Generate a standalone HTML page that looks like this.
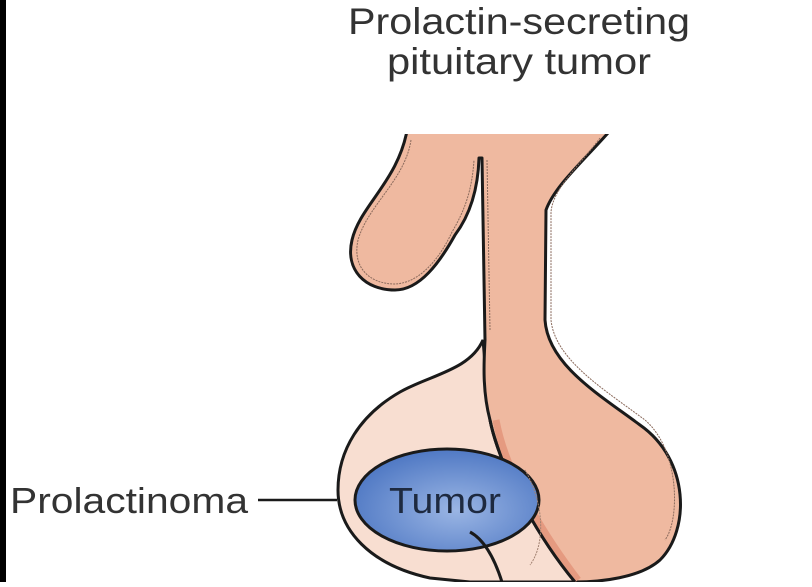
<!DOCTYPE html>
<html><head><style>
html,body{margin:0;padding:0;background:#fff;}
body{width:812px;height:582px;overflow:hidden;position:relative;font-family:"Liberation Sans",sans-serif;}
</style></head><body>
<svg width="812" height="582" viewBox="0 0 812 582" xmlns="http://www.w3.org/2000/svg">
<defs>
<radialGradient id="tg" cx="0.55" cy="0.6" r="0.6">
<stop offset="0" stop-color="#9ab5e4"/><stop offset="1" stop-color="#5079c4"/>
</radialGradient>
<clipPath id="cp"><rect x="0" y="134" width="812" height="448"/></clipPath>
</defs>
<rect x="0" y="0" width="6" height="582" fill="#000"/>
<path d="M483,340 C470,370 430,375 400,392 C360,415 338,450 338,490 C338,530 370,565 430,578 L470,582 L575,582 C540,540 500,470 490,420 Z" fill="#f8ded1" stroke="#1a1a1a" stroke-width="3"/>
<g clip-path="url(#cp)">
<path d="M408,125 L615,125 C585,160 555,185 546,210 L545,320 C548,365 600,395 640,425 C690,460 690,530 660,560 C640,578 600,582 575,582 C545,540 500,470 490,420 C482,390 484,360 485,340 L482,158 L479,158 C478,190 470,215 455,235 C440,262 420,290 395,290 C365,290 345,270 352,240 C360,205 400,180 408,125 Z" fill="#efb9a0" stroke="#1a1a1a" stroke-width="3" stroke-linejoin="round"/>
</g>
<path d="M496,420 C505,470 540,530 578,580" fill="none" stroke="#e59a80" stroke-width="7"/>
<path d="M490,420 C500,470 540,540 575,582" fill="none" stroke="#1a1a1a" stroke-width="3"/>
<path d="M411,140 C405,180 368,205 358,240 C352,268 370,284 395,284 C420,283 440,258 452,232 C465,210 472,190 474,160" fill="none" stroke="#8a6a5c" stroke-width="1" stroke-dasharray="2,1"/>
<path d="M487,160 L490,330" fill="none" stroke="#8a6a5c" stroke-width="1" stroke-dasharray="2,1"/>
<path d="M600,138 C580,165 553,188 551,212 L551,320 C555,360 605,390 645,420 C680,450 680,520 665,540" fill="none" stroke="#8a6a5c" stroke-width="1" stroke-dasharray="2,1"/>
<ellipse cx="447" cy="500" rx="92" ry="51" fill="url(#tg)" stroke="#1a1a1a" stroke-width="3"/>
<path d="M470,532 C485,540 495,560 502,582" fill="none" stroke="#1a1a1a" stroke-width="3"/>
<path d="M525,470 C545,505 545,545 530,565" fill="none" stroke="#a08070" stroke-width="1" stroke-dasharray="2,1"/>
<line x1="258" y1="500" x2="337" y2="500" stroke="#1a1a1a" stroke-width="2.5"/>
<text x="389" y="513" font-size="36" textLength="112" lengthAdjust="spacingAndGlyphs" fill="#1e2a40">Tumor</text>
<text x="10" y="513" font-size="36" textLength="238" lengthAdjust="spacingAndGlyphs" fill="#333">Prolactinoma</text>
<text x="348" y="34" font-size="37" textLength="342" lengthAdjust="spacingAndGlyphs" fill="#333">Prolactin-secreting</text>
<text x="387" y="74" font-size="37" textLength="264" lengthAdjust="spacingAndGlyphs" fill="#333">pituitary tumor</text>
</svg>
</body></html>
